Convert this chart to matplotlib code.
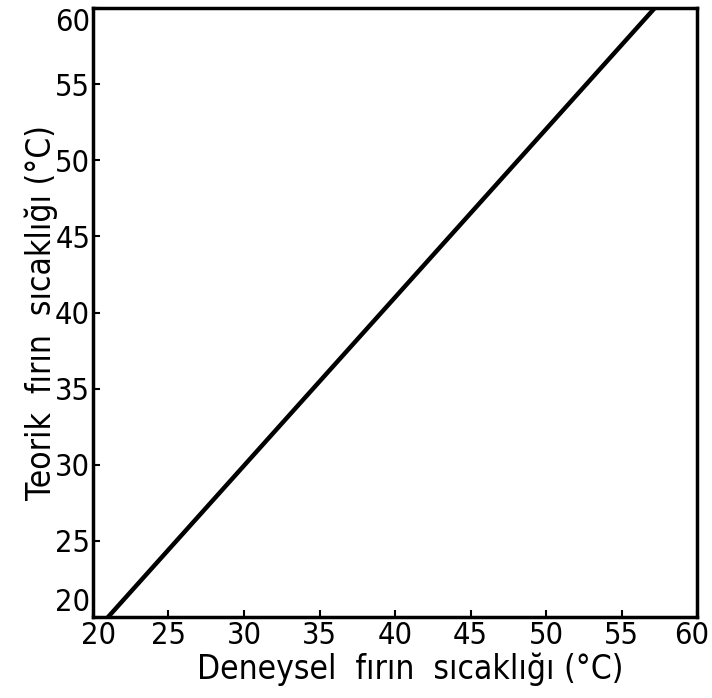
import matplotlib
matplotlib.use("Agg")
import matplotlib.pyplot as plt
from matplotlib.transforms import ScaledTranslation

# calibration line
deneysel = [21.0, 57.2]
teorik = [20.0, 60.0]
ticks = [20, 25, 30, 35, 40, 45, 50, 55, 60]

plt.rcParams['font.family'] = ['DejaVu Sans']
plt.rcParams['font.stretch'] = 'condensed'

fig = plt.figure(figsize=(7.12, 6.98), dpi=100)
ax = fig.add_axes([0.1306, 0.116, 0.8484, 0.8725])

ax.plot(deneysel, teorik, color='black', lw=3.2, solid_capstyle='round')

ax.set_xlim(20, 60)
ax.set_ylim(20, 60)
ax.set_xticks(ticks)
ax.set_yticks(ticks)
ax.tick_params(direction='in', length=5, width=1.5, labelsize=22, pad=2)
ax.tick_params(axis='x', pad=3)
ylabs = ax.get_yticklabels()
for lab in ylabs:
    lab.set_va('center_baseline')
ylabs[0].set_va('bottom')
ylabs[-1].set_va('top')
xlabs = ax.get_xticklabels()
xlabs[0].set_transform(xlabs[0].get_transform() + ScaledTranslation(6/100, 0, fig.dpi_scale_trans))
xlabs[-1].set_transform(xlabs[-1].get_transform() + ScaledTranslation(-5/100, 0, fig.dpi_scale_trans))
for s in ax.spines.values():
    s.set_linewidth(2.5)

ax.set_xlabel('Deneysel  fırın  sıcaklığı (°C)', fontsize=24)
ax.xaxis.set_label_coords(0.525, -0.058)
ax.set_ylabel('Teorik  fırın  sıcaklığı (°C)', fontsize=24, labelpad=-2)

fig.savefig('out.png', dpi=100)
